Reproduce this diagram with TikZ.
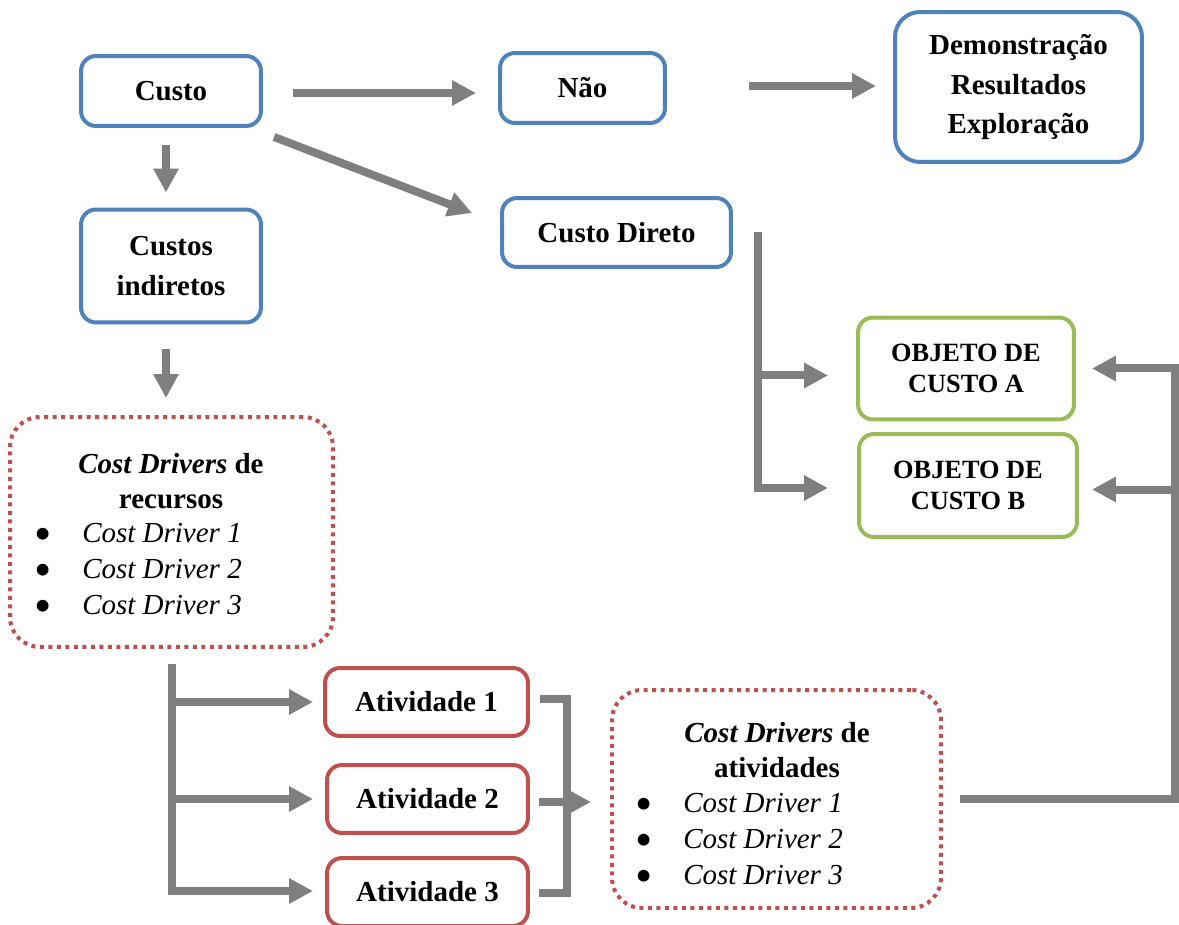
\documentclass[tikz,border=0pt]{standalone}
\usepackage{fontspec}
\setmainfont{Liberation Serif}
\usetikzlibrary{arrows.meta,calc}
\definecolor{boxblue}{HTML}{4F81BD}
\definecolor{boxgreen}{HTML}{9BBB59}
\definecolor{boxred}{HTML}{C0504D}
\definecolor{arrgray}{HTML}{7F7F7F}
\tikzset{
  basebox/.style={line width=0.08cm, fill=white, align=center, inner sep=0pt,
    font=\fontsize{16.5}{22.4}\bfseries\selectfont},
  bluebox/.style={basebox, draw=boxblue, rounded corners=0.3cm},
  greenbox/.style={basebox, draw=boxgreen, rounded corners=0.3cm,
    font=\fontsize{15}{18}\bfseries\selectfont},
  redbox/.style={basebox, draw=boxred, rounded corners=0.3cm},
  dotbox/.style={line width=0.08cm, draw=boxred, dash pattern=on 0.08cm off 0.09cm,
    rounded corners=0.6cm, inner sep=0pt},
  headtxt/.style={align=center, inner sep=0pt, font=\fontsize{16.5}{20.2}\bfseries\selectfont},
  listtxt/.style={align=left, inner sep=0pt, font=\fontsize{16.5}{20.6}\selectfont, anchor=west},
  conn/.style={draw=arrgray, line width=0.16cm, line join=miter},
  arr/.style={conn, -{Triangle[length=0.48cm,width=0.48cm]}},
}
\newcommand{\bigbul}{\smash{\raisebox{-0.27em}{\scalebox{1.7}{\textbullet}}}}
\newcommand{\bul}[1]{\makebox[0.96cm][l]{\bigbul}\textit{#1}}
\begin{document}
\begin{tikzpicture}[x=0.02cm,y=-0.02cm]
\useasboundingbox (0,0) rectangle (1179,925);
% nodes
\node[bluebox, minimum width=3.6cm, minimum height=1.4cm] (custo) at (171,91) {Custo};
\node[bluebox, minimum width=3.6cm, minimum height=2.26cm] (ind) at (171,266) {Custos\\indiretos};
\node[bluebox, minimum width=3.3cm, minimum height=1.4cm] (nao) at (582.5,88) {Não};
\node[bluebox, rounded corners=0.5cm, minimum width=4.94cm, minimum height=3.0cm,
  font=\fontsize{16.5}{22.6}\bfseries\selectfont] (dem) at (1018.5,87) {Demonstração\\Resultados\\Exploração};
\node[bluebox, minimum width=4.58cm, minimum height=1.38cm] (cd) at (616.5,232.5) {Custo Direto};
\node[greenbox, minimum width=4.32cm, minimum height=2.04cm] (oa) at (966,368.5) {OBJETO DE\\CUSTO A};
\node[greenbox, minimum width=4.36cm, minimum height=2.06cm] (ob) at (968,485.5) {OBJETO DE\\CUSTO B};
\node[dotbox, minimum width=6.46cm, minimum height=4.6cm] (cdr) at (171.5,532) {};
\node[headtxt] (cdrh) at (171,481) {\textit{Cost Drivers} de\\recursos};
\node[listtxt] (cdrl) at (34,569) {\bul{Cost Driver 1}\\\bul{Cost Driver 2}\\\bul{Cost Driver 3}};
\node[redbox, minimum width=4.06cm, minimum height=1.36cm] (a1) at (426.5,702) {Atividade 1};
\node[redbox, minimum width=4.02cm, minimum height=1.36cm] (a2) at (427.5,799) {Atividade 2};
\node[redbox, minimum width=4.02cm, minimum height=1.36cm] (a3) at (427.5,892) {Atividade 3};
\node[dotbox, minimum width=6.58cm, minimum height=4.36cm] (cda) at (776.5,799) {};
\node[headtxt] (cdah) at (777,750) {\textit{Cost Drivers} de\\atividades};
\node[listtxt] (cdal) at (635,839) {\bul{Cost Driver 1}\\\bul{Cost Driver 2}\\\bul{Cost Driver 3}};
% simple arrows
\draw[arr] ($(custo.east)+(30,2)$) -- ($(nao.west)+(-22,5)$);
\draw[arr] ($(custo.south east)+(11,9)$) -- ($(cd.west)+(-28,-19.5)$);
\draw[arr] ($(custo.south)+(-5,17)$) -- ($(ind.north)+(-5,-15)$);
\draw[arr] ($(nao.east)+(82,-2)$) -- ($(dem.west)+(-17,-1)$);
\draw[arr] ($(ind.south)+(-5,25)$) -- ($(cdr.north)+(-5.5,-17)$);
% Custo Direto bracket
\coordinate (cdx) at ($(cd.east)+(25,0)$);
\coordinate (tipA) at ($(oa.west)+(-28,7)$);
\coordinate (tipB) at ($(ob.west)+(-29,2.5)$);
\draw[arr] (cdx) |- (tipB);
\draw[arr] (cdx |- tipA) -- (tipA);
% right bracket
\coordinate (rs) at ($(cda.east)+(17,0)$);
\coordinate (rv) at (1175,799);
\coordinate (rtA) at ($(oa.east)+(16,0)$);
\coordinate (rtB) at ($(ob.east)+(13,4)$);
\draw[arr] (rs) -- (rv) |- (rtA);
\draw[arr] (rv |- rtB) -- (rtB);
% recursos bracket
\coordinate (rtop) at ($(cdr.south)+(0.5,15)$);
\coordinate (t1) at ($(a1.west)+(-10,0)$);
\coordinate (t2) at ($(a2.west)+(-12,0)$);
\coordinate (t3) at ($(a3.west)+(-12,-1)$);
\draw[arr] (rtop) |- (t3);
\draw[arr] (rtop |- t1) -- (t1);
\draw[arr] (rtop |- t2) -- (t2);
% atividades bracket
\draw[conn] ($(a1.east)+(10,-3)$) -- ++(27,0) |- ($(a3.east)+(9,1)$);
\draw[arr] ($(a2.east)+(9,3)$) -- ($(cda.west)+(-19,3)$);
\end{tikzpicture}
\end{document}
